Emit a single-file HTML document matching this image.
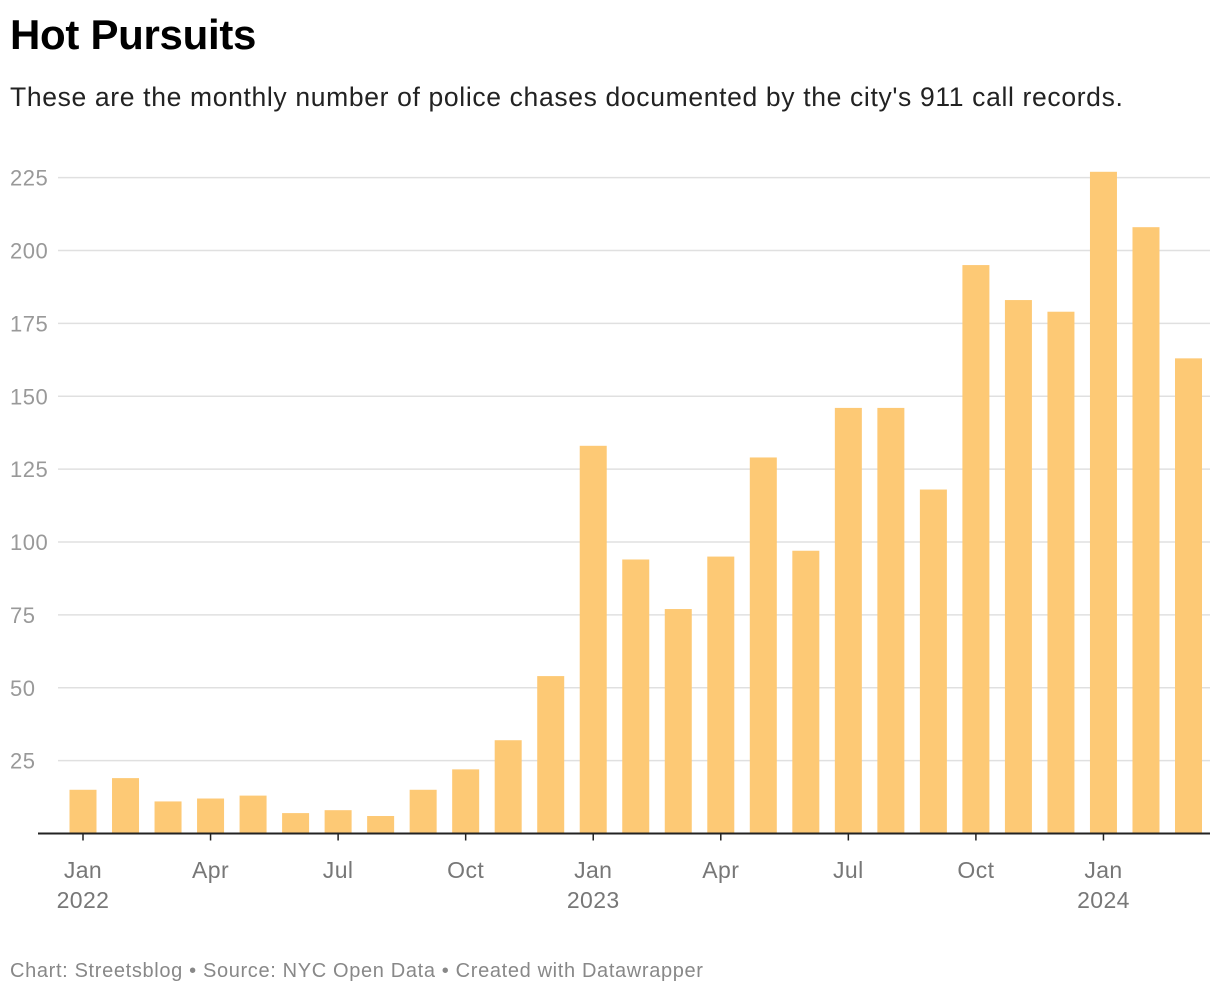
<!DOCTYPE html>
<html><head><meta charset="utf-8"><style>
body{margin:0;background:#fff;font-family:"Liberation Sans",sans-serif;}
#wrap{position:relative;width:1220px;height:996px;overflow:hidden}
h1{position:absolute;left:10px;top:11px;margin:0;font-size:42px;font-weight:bold;color:#000;letter-spacing:-0.3px}
.sub{position:absolute;left:10px;top:82px;font-size:26.5px;color:#222;letter-spacing:0.65px;white-space:nowrap}
.foot{position:absolute;left:10px;top:960px;font-size:20px;color:#888;letter-spacing:0.65px;white-space:nowrap}
</style></head><body>
<div id="wrap">
<h1>Hot Pursuits</h1>
<div class="sub">These are the monthly number of police chases documented by the city's 911 call records.</div>
<svg id="chart" width="1220" height="996" style="position:absolute;left:0;top:0"></svg>
<div class="foot">Chart: Streetsblog • Source: NYC Open Data • Created with Datawrapper</div>
</div>
<script>
const values=[15,19,11,12,13,7,8,6,15,22,32,54,133,94,77,95,129,97,146,146,118,195,183,179,227,208,163];
const yTicks=[25,50,75,100,125,150,175,200,225];
const xTickIdx=[0,3,6,9,12,15,18,21,24];
const xTickLabels=["Jan","Apr","Jul","Oct","Jan","Apr","Jul","Oct","Jan"];
const yearLabels={0:"2022",12:"2023",24:"2024"};
const svg=document.getElementById('chart');
const NS="http://www.w3.org/2000/svg";
const y0=833.5, pxPer=(761-178)/200;
const y=v=>y0-v*pxPer;
const x=i=>83+i*(1188.5-83)/26;
const bw=27;
function mk(t,a){const e=document.createElementNS(NS,t);for(const k in a)e.setAttribute(k,a[k]);svg.appendChild(e);return e;}
yTicks.forEach(t=>{
  const l=mk('line',{x1:58,x2:1210,y1:y(t),y2:y(t),stroke:'#e0e0e0','stroke-width':1.5});
  
  
  const tx=mk('text',{x:10,y:y(t)+8,'font-size':22,'letter-spacing':0.5,fill:'#999','font-family':'Liberation Sans, sans-serif'});
  tx.textContent=t;
  
  
});
values.forEach((v,i)=>{
  const r=mk('rect',{x:x(i)-bw/2,y:y(v),width:bw,height:y0-y(v),fill:'#fdc975'});
  
  
});
const base=mk('line',{x1:38,x2:1210,y1:y0,y2:y0,stroke:'#222','stroke-width':2});


xTickIdx.forEach((idx,k)=>{
  const tk=mk('line',{x1:x(idx),x2:x(idx),y1:y0,y2:y0+7,stroke:'#222','stroke-width':1.5});
  
  
  const t=mk('text',{x:x(idx),y:878,'font-size':23,'letter-spacing':0.4,fill:'#777','text-anchor':'middle','font-family':'Liberation Sans, sans-serif'});
  t.textContent=xTickLabels[k];
  
  
  if(yearLabels[idx]){
    const yl=mk('text',{x:x(idx),y:908,'font-size':23,'letter-spacing':0.4,fill:'#777','text-anchor':'middle','font-family':'Liberation Sans, sans-serif'});
    yl.textContent=yearLabels[idx];
    
    
  }
});
</script>
</body></html>
